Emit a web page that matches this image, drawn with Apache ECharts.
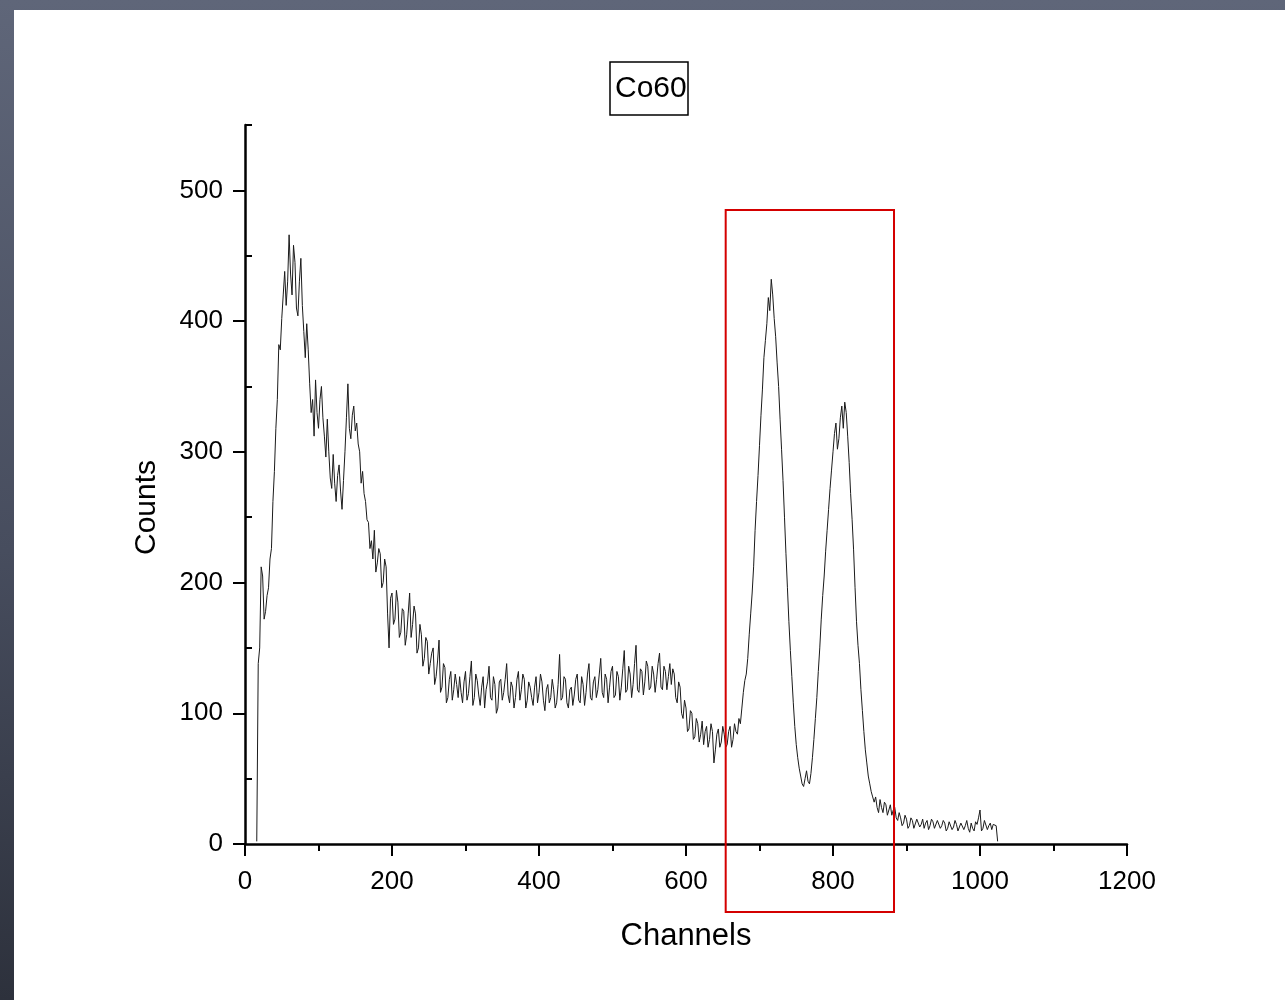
<!DOCTYPE html>
<html>
<head>
<meta charset="utf-8">
<title>Co60</title>
<script src="https://cdn.jsdelivr.net/npm/echarts@6.0.0/dist/echarts.min.js"></script>
<style>
  html, body { margin: 0; padding: 0; }
  body {
    width: 1285px; height: 1000px; overflow: hidden; position: relative;
    background: linear-gradient(180deg, #5f6679 0%, #474d5e 55%, #2d313c 100%);
  }
  #sheet { position: absolute; left: 14px; top: 10px; right: 0; bottom: 0; background: #fff; }
  #chart { position: absolute; left: 0; top: 0; width: 1285px; height: 1000px; }
</style>
</head>
<body>
<div id="sheet"></div>
<div id="chart"></div>
<script>
// Spectrum, one value every 2 channels starting at channel 16
const firstChannel = 16
const channelStep = 2
const counts = [
  2, 138, 150, 212, 205, 172, 178, 190, 196, 218, 226, 262, 285, 318, 340, 382, 378, 402, 420, 438,
  412, 430, 466, 436, 420, 458, 445, 410, 404, 430, 448, 412, 392, 372, 398, 378, 352, 330, 340, 312,
  355, 330, 318, 340, 350, 326, 312, 296, 325, 300, 280, 272, 298, 276, 262, 282, 290, 270, 256, 278,
  300, 326, 352, 318, 310, 328, 335, 316, 322, 306, 300, 276, 285, 268, 262, 248, 246, 226, 232, 218,
  240, 208, 215, 226, 222, 196, 200, 218, 212, 176, 150, 188, 192, 168, 172, 194, 185, 158, 162, 180,
  178, 152, 160, 176, 192, 158, 168, 182, 176, 146, 150, 168, 160, 136, 142, 158, 155, 130, 138, 146,
  150, 122, 128, 140, 156, 116, 120, 138, 135, 108, 112, 126, 132, 110, 118, 130, 122, 112, 128, 116,
  108, 124, 132, 110, 115, 128, 140, 106, 112, 130, 125, 114, 106, 120, 128, 104, 118, 124, 136, 112,
  110, 128, 122, 100, 104, 124, 126, 110, 116, 126, 138, 114, 108, 124, 120, 104, 112, 126, 132, 110,
  118, 130, 126, 104, 110, 124, 120, 112, 106, 120, 128, 108, 116, 130, 124, 110, 102, 118, 122, 108,
  112, 126, 118, 104, 108, 122, 145, 110, 112, 128, 126, 108, 104, 118, 120, 106, 114, 126, 130, 110,
  108, 128, 122, 106, 116, 130, 138, 112, 110, 124, 128, 112, 118, 130, 142, 116, 112, 130, 126, 108,
  120, 132, 136, 112, 114, 132, 128, 110, 120, 134, 148, 116, 118, 136, 130, 112, 122, 138, 152, 118,
  116, 134, 132, 114, 124, 140, 136, 118, 120, 136, 130, 116, 126, 138, 146, 120, 118, 136, 132, 118,
  128, 138, 122, 134, 130, 112, 108, 124, 120, 100, 96, 110, 104, 86, 88, 102, 100, 80, 82, 96,
  92, 78, 84, 94, 76, 86, 90, 74, 80, 92, 86, 62, 72, 84, 88, 74, 78, 90, 84, 74,
  76, 86, 90, 74, 80, 92, 86, 84, 96, 92, 104, 116, 125, 130, 142, 160, 176, 192, 212, 240,
  262, 282, 305, 328, 348, 372, 385, 398, 418, 408, 432, 420, 402, 388, 368, 350, 325, 302, 278, 250,
  222, 196, 170, 148, 128, 108, 90, 76, 66, 58, 52, 46, 44, 50, 56, 48, 46, 54, 66, 80,
  96, 112, 132, 150, 172, 190, 205, 224, 240, 256, 272, 286, 300, 314, 322, 302, 310, 326, 335, 318,
  338, 330, 312, 292, 268, 248, 225, 196, 170, 152, 138, 118, 102, 86, 72, 62, 52, 46, 40, 36,
  32, 36, 28, 24, 34, 28, 24, 32, 30, 22, 26, 30, 22, 26, 28, 20, 18, 24, 20, 14,
  16, 22, 19, 12, 14, 20, 18, 12, 13, 19, 20, 13, 15, 19, 12, 16, 18, 11, 14, 19,
  17, 12, 11, 18, 19, 12, 14, 18, 16, 10, 12, 17, 18, 11, 13, 18, 15, 10, 11, 16,
  17, 11, 14, 18, 12, 9, 16, 12, 10, 17, 15, 20, 26, 10, 12, 18, 17, 11, 14, 16,
  11, 15, 16, 14, 2
]

const xMajorTicks = [0, 200, 400, 600, 800, 1000, 1200]
const yMajorTicks = [0, 100, 200, 300, 400, 500]
const yMinorTicks = [50, 150, 250, 350, 450, 550]

// the red box drawn round the two photopeaks (data units)
const boxChannels = [654, 883]
const boxCounts = [-52, 485]

const FONT = '"Liberation Sans", Arial, sans-serif'

const chart = echarts.init(document.getElementById('chart'), null, { renderer: 'canvas' })

const points = counts.map((c, i) => [firstChannel + i * channelStep, c])

chart.setOption({
  animation: false,
  backgroundColor: 'transparent',
  title: {
    text: 'Co60',
    left: 610,
    top: 62,
    padding: [10, 2, 10, 5],
    borderColor: '#000',
    borderWidth: 1.5,
    textStyle: { fontFamily: FONT, fontSize: 30, fontWeight: 'normal', color: '#000', lineHeight: 33 }
  },
  grid: { left: 245, right: 158, top: 125, bottom: 156, containLabel: false },
  xAxis: {
    type: 'value',
    min: xMajorTicks[0],
    max: xMajorTicks[xMajorTicks.length - 1],
    interval: 200,
    name: 'Channels',
    nameLocation: 'middle',
    nameGap: 77,
    nameTextStyle: { fontFamily: FONT, fontSize: 31, color: '#000' },
    axisLine: { onZero: false, lineStyle: { color: '#000', width: 2.5 } },
    axisTick: { length: 12, lineStyle: { color: '#000', width: 2 } },
    minorTick: { show: true, splitNumber: 2, length: 7, lineStyle: { color: '#000', width: 2 } },
    splitLine: { show: false },
    axisLabel: {
      fontFamily: FONT, fontSize: 26, color: '#000', margin: 25,
      formatter: v => String(v)
    }
  },
  yAxis: [
    {
      type: 'value',
      min: 0,
      max: 550,
      name: 'Counts',
      nameLocation: 'middle',
      nameGap: 83,
      nameTextStyle: { fontFamily: FONT, fontSize: 30, color: '#000', padding: [0, 46, 0, 0] },
      axisLine: { show: true, onZero: false, lineStyle: { color: '#000', width: 2.5 } },
      axisTick: { show: true, length: 12, customValues: yMajorTicks, lineStyle: { color: '#000', width: 2 } },
      splitLine: { show: false },
      axisLabel: { fontFamily: FONT, fontSize: 26, color: '#000', margin: 22, customValues: yMajorTicks }
    },
    {
      type: 'value',
      min: 0,
      max: 550,
      axisLine: { show: false },
      axisTick: { show: true, length: 7, customValues: yMinorTicks, lineStyle: { color: '#000', width: 2 } },
      splitLine: { show: false },
      axisLabel: { show: false }
    }
  ],
  series: [{
    type: 'line',
    data: points,
    showSymbol: false,
    lineStyle: { color: '#1a1a1a', width: 1 },
    yAxisIndex: 0
  }]
})

const p1 = chart.convertToPixel({ gridIndex: 0 }, [boxChannels[0], boxCounts[1]])
const p2 = chart.convertToPixel({ gridIndex: 0 }, [boxChannels[1], boxCounts[0]])
chart.setOption({
  graphic: [{
    type: 'rect',
    z: 100,
    shape: { x: p1[0], y: p1[1], width: p2[0] - p1[0], height: p2[1] - p1[1] },
    style: { fill: 'none', stroke: '#d40000', lineWidth: 2 }
  }]
})
</script>
</body>
</html>
